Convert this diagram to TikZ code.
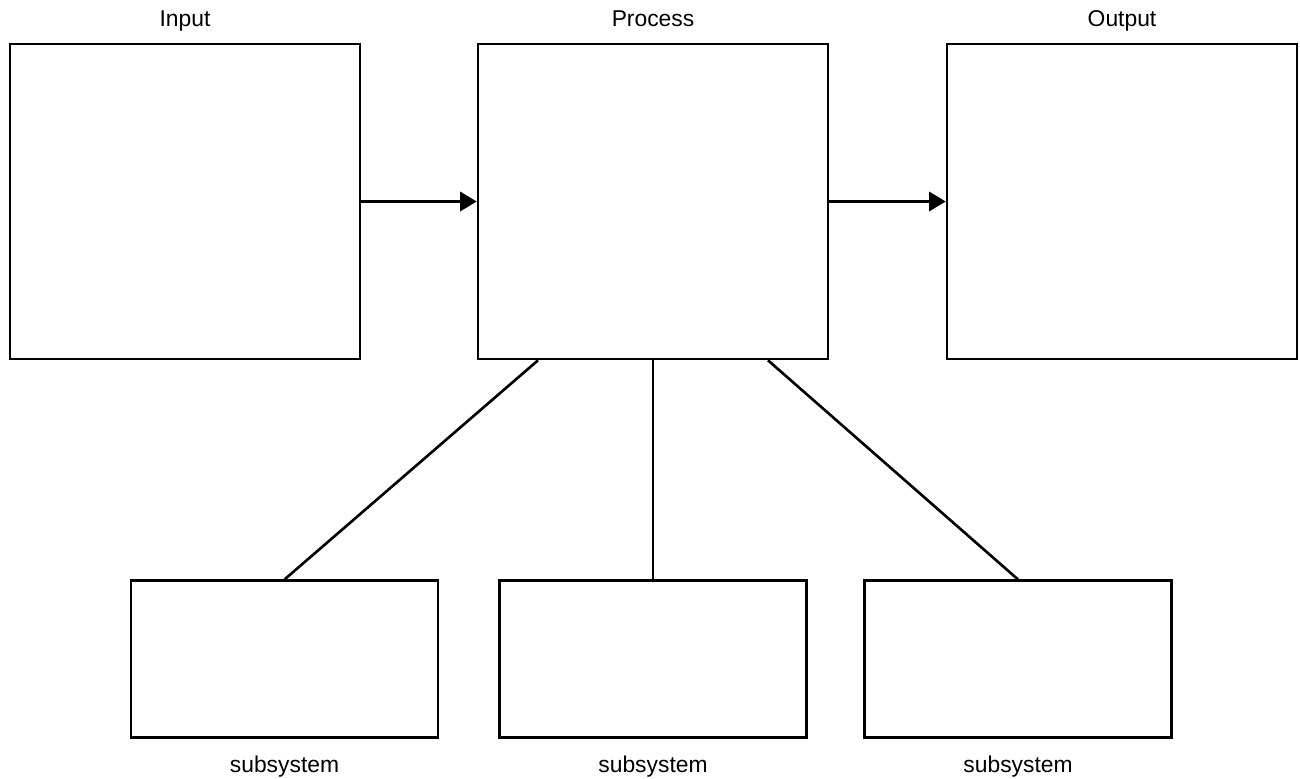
\documentclass[tikz,border=0pt]{standalone}
\usepackage{fontspec}
\setmainfont{Liberation Sans}
\usepackage{tikz}
\usetikzlibrary{positioning}
\usetikzlibrary{arrows.meta}

\begin{document}
\begin{tikzpicture}[x=0.02cm, y=-0.02cm, line width=1.5pt, >={Triangle[length=9.5pt,width=11pt]},
bigbox/.style={draw, minimum width=7cm, minimum height=6.3cm, inner sep=0pt, name=#1},
subbox/.style={draw, minimum width=6.14cm, minimum height=3.13cm, inner sep=0pt, name=#1},
lbl/.style={font=\fontsize{13}{15}\selectfont, inner sep=0pt}]
\useasboundingbox (0,0) rectangle (1300,778);

% main boxes
\node [bigbox=inp] at (185,201.5) {};
\node [above = 0.32cm of inp, anchor=base, lbl] (inplbl) {Input};
\node [bigbox=proc] at (653,201.5) {};
\node [above = 0.32cm of proc, anchor=base, lbl] (proclbl) {Process};
\node [bigbox=outp] at (1122,201.5) {};
\node [above = 0.32cm of outp, anchor=base, lbl] (outplbl) {Output};

% subsystems
\node [subbox=suba] at (284.5,659) {};
\node [below = 0.67cm of suba, anchor=base, lbl] (subalbl) {subsystem};
\node [subbox=subb] at (653,659) {};
\node [below = 0.67cm of subb, anchor=base, lbl] (subblbl) {subsystem};
\node [subbox=subc] at (1018,659) {};
\node [below = 0.67cm of subc, anchor=base, lbl] (subclbl) {subsystem};

% arrows
\draw [->] (inp.east) -- (proc.west);
\draw [->] (proc.east) -- (outp.west);

% links down
\coordinate (pa) at ([xshift=-2.3cm]proc.south);
\coordinate (pc) at ([xshift=2.3cm]proc.south);
\draw (pa) -- (suba.north);
\draw (proc.south) -- (subb.north);
\draw (pc) -- (subc.north);

\end{tikzpicture}
\end{document}
